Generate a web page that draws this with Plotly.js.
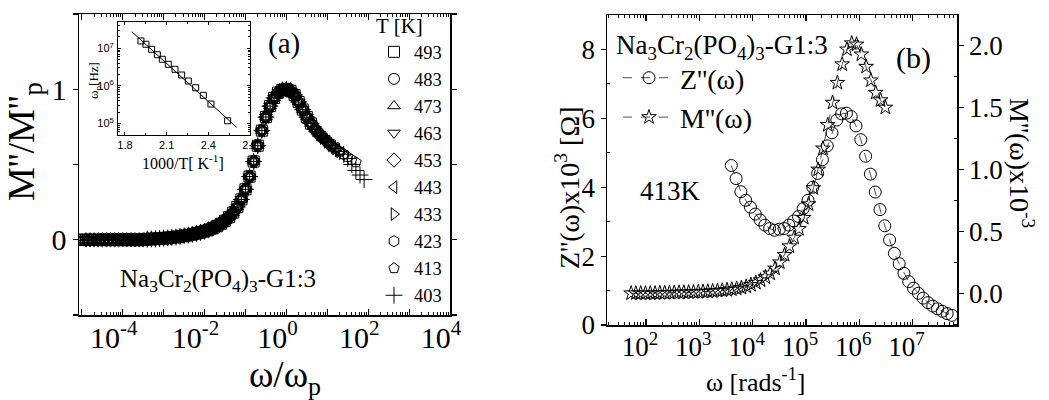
<!DOCTYPE html>
<html><head><meta charset="utf-8">
<script src="https://cdn.plot.ly/plotly-3.0.1.min.js"></script>
<style>html,body{margin:0;padding:0;background:#fff}#chart{width:1049px;height:400px}</style>
</head><body><div id="chart"></div>
<script>
// ---------- Panel (a): master curve M''/M''p vs log10(omega/omega_p) ----------
const masterLogW = [-5.1,-5.0,-4.9,-4.8,-4.7,-4.6,-4.5,-4.4,-4.3,-4.2,-4.1,-4.0,-3.9,-3.8,-3.7,-3.6,-3.5,
  -3.4,-3.3,-3.2,-3.1,-3.0,-2.9,-2.8,-2.7,-2.6,-2.5,-2.4,-2.3,-2.2,-2.1,-2.0,-1.9,-1.8,-1.7,-1.6,-1.5,-1.4,-1.3,-1.2,-1.1,-1.0,-0.9,-0.8,-0.7,-0.6,-0.5,-0.4,-0.3,-0.2,-0.1,
  0.0,0.1,0.2,0.3,0.4,0.5,0.6,0.7,0.8,0.9,1.0,1.1,1.2,1.3,1.4,1.5,1.6,1.7];
const masterM = [0,0,0,0,0,0,0,0,0,0,0,0,0,0,0,0,0,
  0.004,0.005,0.006,0.008,0.010,0.012,0.015,0.018,0.022,0.026,0.031,0.036,0.042,0.049,0.057,0.066,0.077,0.09,0.106,0.126,0.15,0.18,0.218,0.268,0.335,0.42,0.52,0.625,0.725,0.815,0.888,0.942,0.978,0.996,
  1.0,0.99,0.962,0.915,0.865,0.815,0.772,0.735,0.703,0.675,0.65,0.627,0.606,0.587,0.568,0.55,0.532,0.515];
const temps = ['493','483','473','463','453','443','433','423','413','403'];
const seriesFromLog = [-5.1,-5.1,-5.1,-5.1,-4.9,-4.6,-4.3,-4.0,-3.7,-3.4];
const seriesToLog   = [0.6,0.8,0.9,1.0,1.1,1.2,1.3,1.4,1.7,1.4];
const plusTailLogW = [1.5,1.6,1.7,1.8,1.9];
const plusTailM    = [0.54,0.50,0.46,0.43,0.40];

// ---------- Inset: omega_p vs 1000/T ----------
const insetInvT = [1.915,1.951,1.992,2.033,2.069,2.112,2.160,2.208,2.256,2.309,2.364,2.419,2.539];
const insetLogWp = [7.195,7.107,6.973,6.829,6.707,6.573,6.44,6.288,6.128,5.949,5.747,5.515,5.069];
const fitInvT = [1.849,2.604];
const fitLogWp = [7.443,4.893];

// ---------- Panel (b): 413 K ----------
const zLogW = [3.60,3.69,3.78,3.87,3.96,4.05,4.14,4.23,4.32,4.41,4.50,4.59,4.68,4.77,4.86,4.95,5.04,5.13,5.22,5.31,5.40,5.49,5.58,5.67,5.76,5.85,5.94,6.03,6.12,6.21,6.30,6.39,6.48,6.57,6.66,6.75,6.84,6.93,7.02,7.11,7.20,7.29,7.38,7.47,7.56,7.65,7.74];
const zVal  = [4.63,4.25,3.87,3.62,3.42,3.22,3.05,2.90,2.80,2.75,2.78,2.80,2.90,3.02,3.15,3.38,3.62,4.00,4.40,4.80,5.20,5.58,5.95,6.13,6.15,6.05,5.78,5.38,4.90,4.38,3.86,3.35,2.88,2.47,2.08,1.78,1.50,1.26,1.07,0.92,0.78,0.65,0.55,0.47,0.40,0.33,0.28];
const mLogW = [1.72,1.81,1.90,1.99,2.08,2.17,2.26,2.35,2.44,2.53,2.62,2.71,2.80,2.89,2.98,3.07,3.16,3.25,3.34,3.43,3.52,3.61,3.70,3.79,3.88,3.97,4.06,4.15,4.24,4.33,4.42,4.51,4.60,4.69,4.78,4.87,4.96,5.05,5.14,5.23,5.32,5.41,5.50,5.59,5.68,5.77,5.86,5.95,6.04,6.13,6.22,6.31,6.40,6.49];
const mVal  = [0,0,0,0,0,0,0.002,0.003,0.004,0.005,0.006,0.007,0.008,0.009,0.011,0.013,0.015,0.017,0.02,0.023,0.027,0.032,0.038,0.045,0.055,0.068,0.085,0.105,0.13,0.16,0.20,0.25,0.31,0.38,0.45,0.52,0.61,0.72,0.85,1.00,1.17,1.36,1.54,1.70,1.85,1.97,2.02,2.01,1.93,1.83,1.72,1.62,1.56,1.50];

// ---------- styles ----------
const serif = 'Liberation Serif, Times New Roman, serif';
const sans = 'Liberation Sans, Arial, sans-serif';
const symbolsA = ['square-open','circle-open','triangle-up-open','triangle-down-open','diamond-open','triangle-left-open','triangle-right-open','hexagon-open','pentagon-open','cross-thin-open'];
const pw = v => Math.pow(10, v);
const W = 1049, H = 400;
const px = v => v / W, py = v => 1 - v / H;

const traces = [];
temps.forEach((t, i) => {
  const xs = [], ys = [];
  masterLogW.forEach((lw, j) => {
    if (lw >= seriesFromLog[i] - 1e-9 && lw <= seriesToLog[i] + 1e-9) { xs.push(pw(lw)); ys.push(masterM[j]); }
  });
  if (i === temps.length - 1) {
    plusTailLogW.forEach((lw, j) => { xs.push(pw(lw)); ys.push(plusTailM[j]); });
  }
  traces.push({
    type: 'scatter', mode: 'markers', x: xs, y: ys, name: t, xaxis: 'x', yaxis: 'y', legend: 'legend',
    marker: {symbol: symbolsA[i], size: i === 9 ? 12 : 11, color: 'black', line: {color: 'black', width: 1}}
  });
});
// inset
traces.push({type:'scatter', mode:'lines', x: fitInvT, y: fitLogWp.map(pw), xaxis:'x2', yaxis:'y2', showlegend:false,
  line:{color:'black', width:1}});
traces.push({type:'scatter', mode:'markers', x: insetInvT, y: insetLogWp.map(pw), xaxis:'x2', yaxis:'y2', showlegend:false,
  marker:{symbol:'square-open', size:6, color:'black', line:{color:'black', width:1}}});
// panel b
traces.push({type:'scatter', mode:'lines+markers', x: zLogW.map(pw), y: zVal, name: "Z''(ω)", xaxis:'x3', yaxis:'y3', legend:'legend2',
  line:{color:'black', width:0.7, dash:'dash'}, marker:{symbol:'circle-open', size:12, color:'black', line:{color:'black', width:1}}});
traces.push({type:'scatter', mode:'lines+markers', x: mLogW.map(pw), y: mVal, name: "M''(ω)", xaxis:'x3', yaxis:'y4', legend:'legend2',
  line:{color:'black', width:0.7, dash:'dash'}, marker:{symbol:'star-open', size:11, color:'black', line:{color:'black', width:1}}});

// ticks
const decA = [], decAText = [], minA = [];
for (let e = -5; e <= 4; e++) { decA.push(pw(e)); decAText.push(e % 2 === 0 ? '10<sup>' + e + '</sup>' : ''); }
for (let e = -6; e <= 4; e++) for (let d = 2; d <= 9; d++) minA.push(d * pw(e));
const decB = [], decBText = [], minB = [];
for (let e = 2; e <= 7; e++) { decB.push(pw(e)); decBText.push('10<sup>' + e + '</sup>'); }
for (let e = 1; e <= 7; e++) for (let d = 2; d <= 9; d++) minB.push(d * pw(e));
const minIns = [];
for (let e = 4; e <= 7; e++) for (let d = 2; d <= 9; d++) minIns.push(d * pw(e));

const axBase = {showline:true, linecolor:'black', linewidth:1.5, showgrid:false, zeroline:false, tickcolor:'black', tickwidth:1.2};
const ann = (text, x, y, size, extra) => Object.assign({text, x:px(x), y:py(y), xref:'paper', yref:'paper', showarrow:false,
  xanchor:'center', yanchor:'middle', font:{size, family:serif, color:'black'}}, extra || {});

const layout = {
  width: W, height: H, margin:{l:0, r:0, t:0, b:0},
  paper_bgcolor:'white', plot_bgcolor:'rgba(0,0,0,0)',
  font:{family: serif, color:'black'},
  showlegend: true,
  xaxis: Object.assign({}, axBase, {domain:[px(79), px(450)], anchor:'y', type:'log', range:[-5.07, 4],
    tickmode:'array', tickvals: decA, ticktext: decAText, ticks:'inside', ticklen:6, mirror:'ticks',
    minor:{tickmode:'array', tickvals:minA, ticks:'inside', ticklen:3, tickcolor:'black', tickwidth:1},
    tickfont:{size:30, family:serif}, ticklabelshift:-9, ticklabelstandoff:-5}),
  yaxis: Object.assign({}, axBase, {domain:[py(315), py(14)], anchor:'x', range:[-0.5, 1.5],
    tickmode:'array', tickvals:[-0.5,0,0.5,1,1.5], ticktext:['','0','','1',''], ticks:'outside', ticklen:5, mirror:'ticks',
    tickfont:{size:30, family:serif}}),
  xaxis2: Object.assign({}, axBase, {domain:[px(118), px(250)], anchor:'y2', range:[1.75, 2.7], linewidth:1,
    tickmode:'array', tickvals:[1.8,2.1,2.4,2.7], ticktext:['1.8','2.1','2.4','2.7'], ticks:'inside', ticklen:3, mirror:'ticks', tickwidth:1,
    minor:{tickmode:'array', tickvals:[1.95,2.25,2.55], ticks:'inside', ticklen:2, tickcolor:'black', tickwidth:1},
    tickfont:{size:11, family:sans}, ticklabelstandoff:0}),
  yaxis2: Object.assign({}, axBase, {domain:[py(135), py(22)], anchor:'x2', type:'log', range:[4.69, 7.70], linewidth:1,
    tickmode:'array', tickvals:[1e5,1e6,1e7], ticktext:['10<sup>5</sup>','10<sup>6</sup>','10<sup>7</sup>'], ticks:'inside', ticklen:3, mirror:'ticks', tickwidth:1,
    minor:{tickmode:'array', tickvals:minIns, ticks:'inside', ticklen:2, tickcolor:'black', tickwidth:1},
    tickfont:{size:11, family:sans}, ticklabelstandoff:1}),
  xaxis3: Object.assign({}, axBase, {domain:[px(607), px(957)], anchor:'y3', type:'log', range:[1.268, 7.835],
    tickmode:'array', tickvals: decB, ticktext: decBText, ticks:'inside', ticklen:6, mirror:'ticks',
    minor:{tickmode:'array', tickvals:minB, ticks:'inside', ticklen:3, tickcolor:'black', tickwidth:1},
    tickfont:{size:27, family:serif}, ticklabelshift:-6, ticklabelstandoff:-3}),
  yaxis3: Object.assign({}, axBase, {domain:[py(325), py(15)], anchor:'x3', range:[0, 9.0],
    tickmode:'array', tickvals:[0,2,4,6,8], ticktext:['0','2','4','6','8'], ticks:'outside', ticklen:5,
    minor:{tickmode:'array', tickvals:[1,3,5,7], ticks:'inside', ticklen:3, tickcolor:'black', tickwidth:1},
    tickfont:{size:27, family:serif}}),
  yaxis4: Object.assign({}, axBase, {overlaying:'y3', side:'right', anchor:'x3', range:[-0.256, 2.248],
    tickmode:'array', tickvals:[0,0.5,1,1.5,2], ticktext:['0.0','0.5','1.0','1.5','2.0'], ticks:'outside', ticklen:5,
    minor:{tickmode:'array', tickvals:[-0.25,0.25,0.75,1.25,1.75], ticks:'inside', ticklen:3, tickcolor:'black', tickwidth:1},
    tickfont:{size:27, family:serif}}),
  legend: {x: px(374), y: py(6), xanchor:'left', yanchor:'top', bgcolor:'rgba(0,0,0,0)', borderwidth:0,
    font:{family:serif, size:18.5}, title:{text:'T [K]', font:{family:serif, size:21}}, tracegroupgap:0, itemwidth:30},
  legend2: {x: px(618), y: py(53), xanchor:'left', yanchor:'top', bgcolor:'rgba(0,0,0,0)', borderwidth:0,
    font:{family:serif, size:28}, itemwidth:52},
  annotations: [
    ann("M''/M''<sub>p</sub>", 24, 142, 38, {textangle:-90}),
    ann('ω/ω<sub>p</sub>', 285, 377, 37),
    ann('(a)', 284, 44, 29),
    ann('Na<sub>3</sub>Cr<sub>2</sub>(PO<sub>4</sub>)<sub>3</sub>-G1:3', 218, 280, 25),
    ann('1000/T[ K<sup>-1</sup>]', 183, 162, 16),
    ann('ω<sub>p</sub>[Hz]', 94, 81, 13, {textangle:-90}),
    ann('Na<sub>3</sub>Cr<sub>2</sub>(PO<sub>4</sub>)<sub>3</sub>-G1:3', 722, 47, 27),
    ann('(b)', 913, 58, 30),
    ann('413K', 670, 191, 27),
    ann('ω [rads<sup>-1</sup>]', 755, 380, 26),
    ann("Z''(ω)x10<sup>3</sup> [Ω]", 567, 188, 28, {textangle:-90}),
    ann("M''(ω)x10<sup>-3</sup>", 1022, 163, 28, {textangle:90})
  ]
};

Plotly.newPlot('chart', traces, layout, {staticPlot:true, displayModeBar:false});
</script>
</body></html>
